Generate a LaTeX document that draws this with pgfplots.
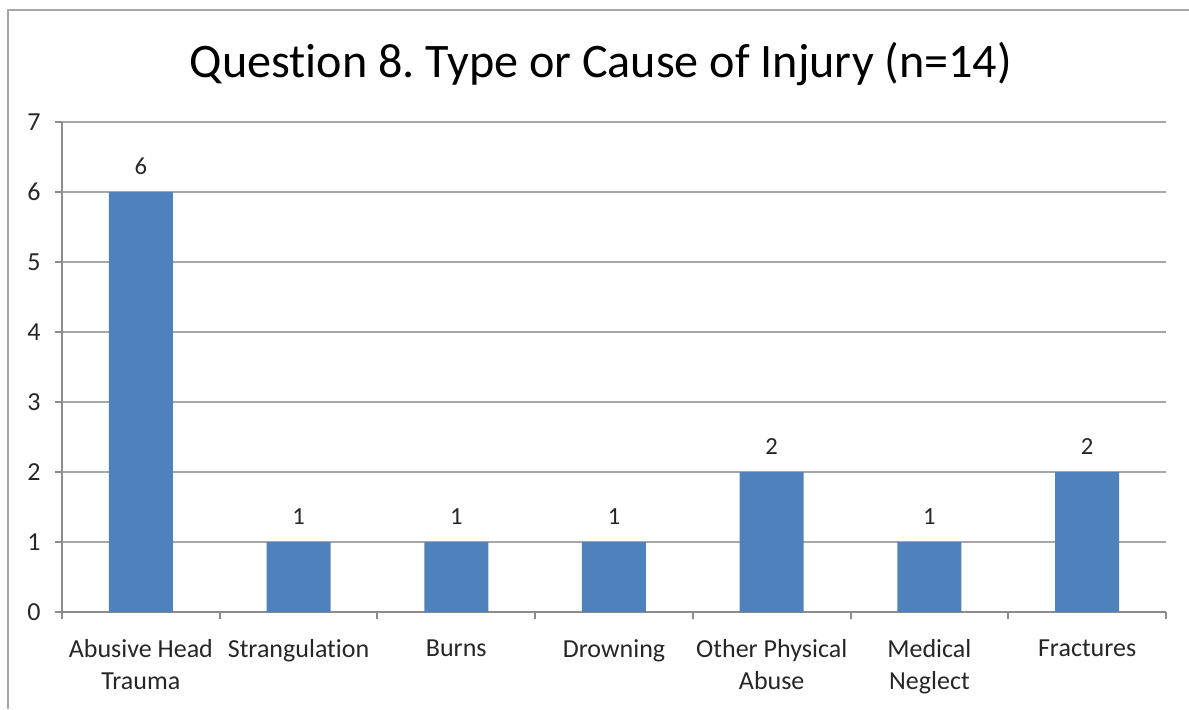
\documentclass[border=0pt]{standalone}
\usepackage{pgfplots}
\pgfplotsset{compat=1.18}
\usepackage{fontspec}
\setmainfont{Carlito}[Ligatures=NoCommon]
\frenchspacing
\definecolor{barblue}{HTML}{4F81BD}
\definecolor{gridgray}{HTML}{A6A6A6}
\definecolor{axisgray}{HTML}{8C8C8C}
\definecolor{txt}{HTML}{262626}
\begin{document}
\begin{tikzpicture}
\useasboundingbox (0,0) rectangle (11.89cm,7.09cm);
\draw[gridgray, line width=0.8pt] (0.08cm,0) -- (0.08cm,6.99cm) -- (11.89cm,6.99cm);
\node[font=\fontsize{13.7}{15}\selectfont, text=black] at (6.01cm,6.45cm) {Question 8. Type or Cause of Injury (n=14)};
\begin{axis}[
    at={(0.62cm,0.97cm)}, anchor=south west,
    scale only axis, width=11.04cm, height=4.90cm,
    ybar, bar width=0.64cm,
    xmin=-0.5, xmax=6.5, ymin=0, ymax=7,
    axis x line*=bottom, axis y line*=left,
    axis line style={axisgray, line width=0.6pt},
    ytick={0,...,7},
    ymajorgrids, grid style={gridgray, line width=0.6pt},
    xtick={0,...,6},
    xticklabels={{Abusive Head\\Trauma},Strangulation,Burns,Drowning,{Other Physical\\Abuse},{Medical\\Neglect},Fractures},
    minor xtick={-0.5,0.5,...,6.5},
    x tick style={draw=none},
    minor x tick style={draw=axisgray, line width=0.6pt},
    minor tick length=0.07cm,
    major tick length=0.07cm,
    y tick style={axisgray, line width=0.6pt},
    tick align=outside,
    x tick label style={align=center, font=\fontsize{7.4}{9.1}\selectfont, text=txt, yshift=-0.08cm},
    y tick label style={font=\fontsize{7.4}{9}\selectfont, text=txt, xshift=-0.02cm},
    /pgf/number format/assume math mode=true,
    nodes near coords,
    every node near coord/.append style={font=\fontsize{7}{8}\selectfont, text=txt, yshift=0.05cm},
]
\addplot[fill=barblue, draw=none] coordinates {(0,6) (1,1) (2,1) (3,1) (4,2) (5,1) (6,2)};
\end{axis}
\end{tikzpicture}
\end{document}
